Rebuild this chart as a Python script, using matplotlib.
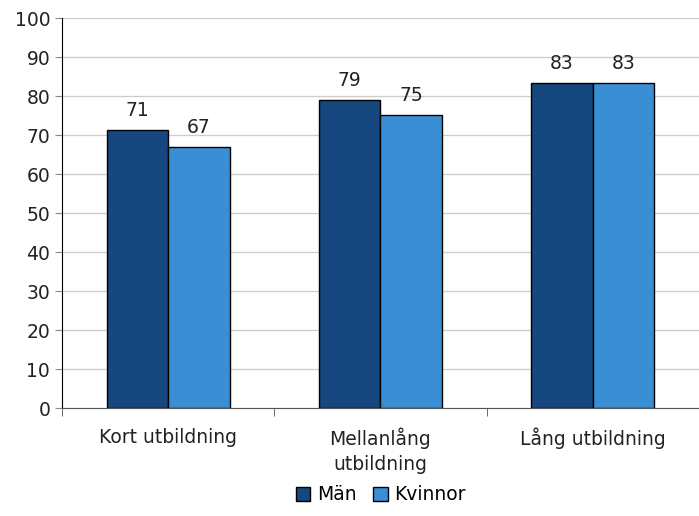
import matplotlib.pyplot as plt
import numpy as np

categories = ['Kort utbildning', 'Mellanlång\nutbildning', 'Lång utbildning']
man = [71.3, 79.0, 83.3]
kvinnor = [66.9, 75.1, 83.3]
man_labels = ['71', '79', '83']
kvinnor_labels = ['67', '75', '83']

plt.rcParams['font.family'] = ['DejaVu Sans']
plt.rcParams['font.size'] = 13.5

fig = plt.figure(figsize=(6.99, 5.16), dpi=100)
ax = fig.add_axes([0.0887, 0.209, 0.911, 0.756])

x = np.arange(len(categories))
w = 0.29
b1 = ax.bar(x - w / 2, man, w, color='#17477f', edgecolor='black', linewidth=1, label='Män', zorder=3)
b2 = ax.bar(x + w / 2, kvinnor, w, color='#3a8fd4', edgecolor='black', linewidth=1, label='Kvinnor', zorder=3)
ax.bar_label(b1, labels=man_labels, padding=7, color='#222222')
ax.bar_label(b2, labels=kvinnor_labels, padding=7, color='#222222')

ax.set_xlim(-0.5, 2.5)
ax.set_ylim(0, 100)
ax.set_yticks(range(0, 101, 10))
ax.yaxis.grid(True, color='#cccccc', linewidth=0.9, zorder=0)
ax.set_axisbelow(True)

ax.set_xticks(x)
ax.set_xticklabels(categories, color='#222222', linespacing=1.4)
ax.tick_params(axis='x', length=0, pad=14)
ax.set_xticks([-0.5, 0.5, 1.5, 2.5], minor=True)
ax.tick_params(axis='x', which='minor', length=6, color='#555555')
ax.tick_params(axis='y', length=5, color='#888888', labelcolor='#222222')

for s in ['top', 'right']:
    ax.spines[s].set_visible(False)
ax.spines['left'].set_color('black')
ax.spines['bottom'].set_color('#555555')

fig.legend(handles=[b1, b2], loc='lower center', bbox_to_anchor=(0.545, -0.01), ncol=2,
           frameon=False, handlelength=0.75, handleheight=0.75, handletextpad=0.35,
           columnspacing=0.9, fontsize=13.5)

plt.savefig('out.png', dpi=100)
